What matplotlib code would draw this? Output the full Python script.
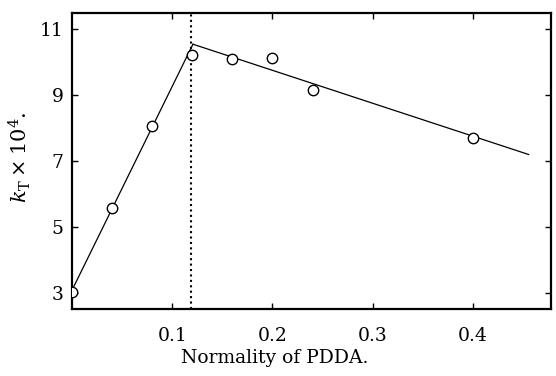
import numpy as np
import matplotlib.pyplot as plt

plt.rcParams['font.family'] = ['DejaVu Serif']
plt.rcParams['mathtext.fontset'] = 'dejavuserif'

# measured points
normality = [0.0, 0.04, 0.08, 0.12, 0.16, 0.20, 0.24, 0.40]
k_t = [3.05, 5.59, 8.06, 10.21, 10.10, 10.12, 9.15, 7.71]

# fitted lines (rising branch, falling branch)
rise_x = [0.0, 0.1207]
rise_y = [3.09, 10.54]
fall_x = [0.1207, 0.4557]
fall_y = [10.54, 7.20]

# break point
x_break = 0.119

xticks = [0.1, 0.2, 0.3, 0.4]
yticks = [3, 5, 7, 9, 11]

fig = plt.figure(figsize=(5.56, 3.76), dpi=100)
ax = fig.add_axes([0.1295, 0.178, 0.8615, 0.787])

ax.plot(rise_x, rise_y, color='black', lw=0.9)
ax.plot(fall_x, fall_y, color='black', lw=0.9)
ax.axvline(x_break, color='black', lw=1.5, ls=(0, (1, 1.6)))
ax.plot(normality, k_t, 'o', ms=7.5, mfc='white', mec='black', mew=1.0, zorder=5)

ax.set_xlim(0, 0.478)
ax.set_ylim(2.52, 11.48)
ax.set_xticks(xticks)
ax.set_xticklabels(['0.1', '0.2', '0.3', '0.4'])
ax.set_yticks(yticks)

ax.tick_params(direction='in', length=4, width=1.0, labelsize=13.5,
               top=True, right=True, labeltop=False, labelright=False)
ax.tick_params(axis='x', pad=13)
ax.tick_params(axis='y', pad=6)
for s in ax.spines.values():
    s.set_linewidth(1.6)

ax.set_xlabel('Normality of PDDA.', fontsize=13.5)
ax.xaxis.set_label_coords(0.424, -0.135)
ax.set_ylabel(r'$k_{\mathrm{T}}\times 10^4$.', fontsize=15)
ax.yaxis.set_label_coords(-0.081, 0.515)

fig.savefig('out.png', dpi=100)
